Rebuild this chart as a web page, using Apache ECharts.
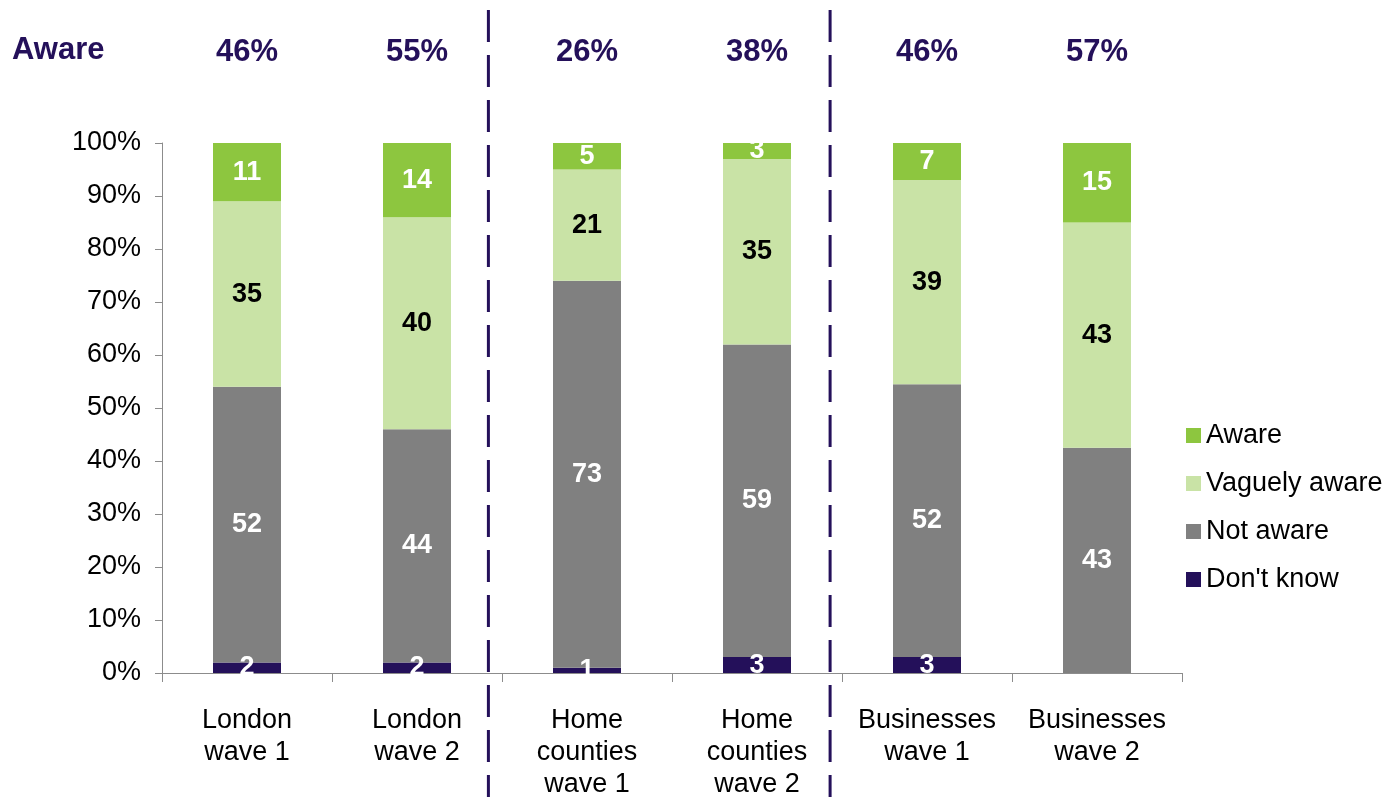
<!DOCTYPE html>
<html>
<head>
<meta charset="utf-8">
<script src="https://cdn.jsdelivr.net/npm/echarts@6/dist/echarts.min.js"></script>
<style>
  html, body { margin: 0; padding: 0; background: #fff; }
  #mychart { width: 1399px; height: 797px; }
</style>
</head>
<body>
<div id="mychart"></div>
<script>
// categories
const categories = ['London\nwave 1', 'London\nwave 2', 'Home\ncounties\nwave 1', 'Home\ncounties\nwave 2', 'Businesses\nwave 1', 'Businesses\nwave 2']
// aware totals shown on top row
const awareTotals = ['46%', '55%', '26%', '38%', '46%', '57%']
// stacked shares (bottom to top)
const dontKnow = [2, 2, 1, 3, 3, 0]
const notAware = [52, 44, 73, 59, 51.5, 42.5]
const vaguelyAware = [35, 40, 21, 35, 38.5, 42.5]
const aware = [11, 14, 5, 3, 7, 15]
// y axis ticks
const yTicks = [0, 10, 20, 30, 40, 50, 60, 70, 80, 90, 100]

const purple = '#24105A'
const font = 'Liberation Sans, Arial, sans-serif'

const chart = echarts.init(document.getElementById('mychart'))

function segLabel(color) {
  return {
    show: true,
    position: 'inside',
    color: color,
    fontFamily: font,
    fontSize: 27,
    fontWeight: 'bold',
    formatter: p => (p.value ? String(Math.round(p.value)) : '')
  }
}

const option = {
  animation: false,
  textStyle: { fontFamily: font },
  grid: { left: 162, right: 217, top: 143, bottom: 124, containLabel: false, outerBoundsMode: 'none' },
  legend: {
    orient: 'vertical',
    left: 1181,
    top: 417,
    itemWidth: 15,
    itemHeight: 15,
    itemGap: 21,
    icon: 'rect',
    data: ['Aware', 'Vaguely aware', 'Not aware', "Don't know"],
    textStyle: { fontSize: 27, color: '#000', fontFamily: font, padding: [0, 0, 0, 0] }
  },
  xAxis: [
    {
      type: 'category',
      data: categories,
      axisLine: { lineStyle: { color: '#8c8c8c', width: 1 } },
      axisTick: { show: true, length: 9, lineStyle: { color: '#8c8c8c' } },
      axisLabel: { color: '#000', fontSize: 27, lineHeight: 32, margin: 32, interval: 0, fontFamily: font }
    },
    {
      type: 'category',
      position: 'top',
      offset: 67,
      data: awareTotals,
      axisLine: { show: false },
      axisTick: { show: false },
      axisLabel: { color: purple, fontSize: 31, fontWeight: 'bold', interval: 0, fontFamily: font }
    }
  ],
  yAxis: {
    type: 'value',
    min: 0,
    max: 100,
    interval: 10,
    axisLine: { show: true, lineStyle: { color: '#8c8c8c' } },
    axisTick: { show: true, length: 7, lineStyle: { color: '#8c8c8c' } },
    splitLine: { show: false },
    axisLabel: {
      color: '#000',
      fontSize: 27,
      margin: 21,
      fontFamily: font,
      formatter: v => (yTicks.indexOf(v) >= 0 ? v + '%' : '')
    }
  },
  series: [
    { name: "Don't know", type: 'bar', stack: 'all', barWidth: '40%', data: dontKnow, itemStyle: { color: purple }, label: segLabel('#fff') },
    { name: 'Not aware', type: 'bar', stack: 'all', data: notAware, itemStyle: { color: '#808080' }, label: segLabel('#fff') },
    { name: 'Vaguely aware', type: 'bar', stack: 'all', data: vaguelyAware, itemStyle: { color: '#C9E3A6' }, label: segLabel('#000') },
    { name: 'Aware', type: 'bar', stack: 'all', data: aware, itemStyle: { color: '#8DC63F' }, label: segLabel('#fff') }
  ]
}

chart.setOption(option)

// group dividers and the "Aware" header
const c1 = chart.convertToPixel({ xAxisIndex: 0 }, categories[1])
const c2 = chart.convertToPixel({ xAxisIndex: 0 }, categories[2])
const c3 = chart.convertToPixel({ xAxisIndex: 0 }, categories[3])
const c4 = chart.convertToPixel({ xAxisIndex: 0 }, categories[4])
const dividers = [c1 + (c2 - c1) * 0.42, c3 + (c4 - c3) * 0.43]

chart.setOption({
  graphic: [
    {
      type: 'text',
      left: 12,
      top: 35,
      style: { text: 'Aware', fill: purple, font: 'bold 31px ' + font }
    }
  ].concat(dividers.map(x => ({
    type: 'line',
    shape: { x1: x, y1: 10, x2: x, y2: 797 },
    style: { stroke: purple, lineWidth: 3, lineDash: [32, 13] },
    z: 10
  })))
})
</script>
</body>
</html>
